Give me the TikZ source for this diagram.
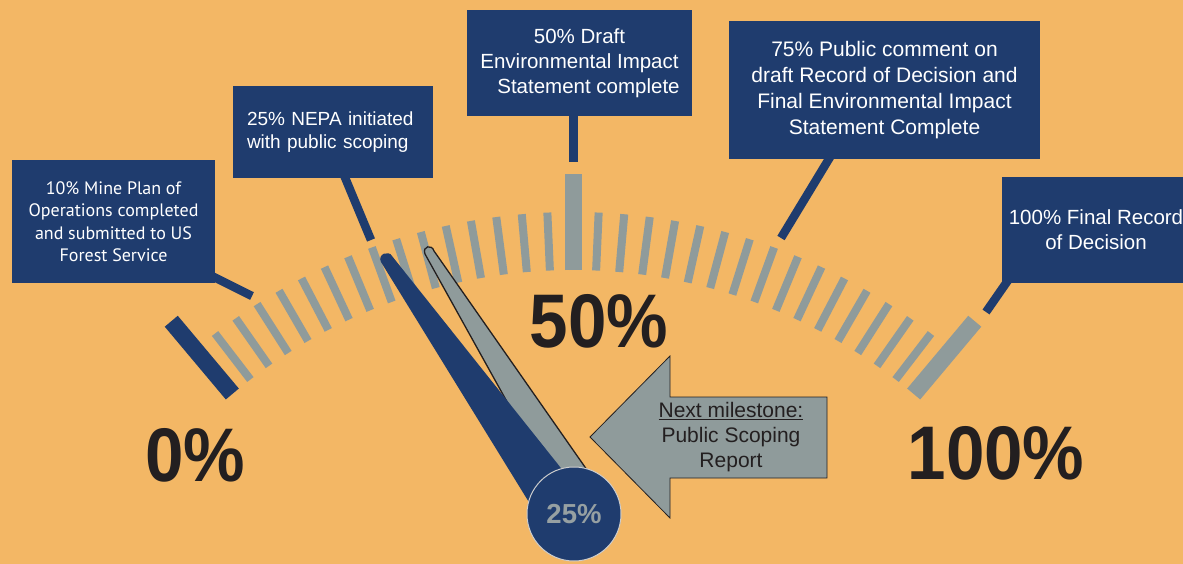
\documentclass[tikz,border=0pt]{standalone}
\usepackage{fontspec}
\setmainfont{Liberation Sans}
\newfontfamily\myriadlike{PT Sans}
\usepackage{graphicx}
\definecolor{bg}{RGB}{243,183,101}
\definecolor{dblue}{RGB}{31,60,110}
\definecolor{tgray}{RGB}{143,155,155}
\definecolor{ink}{RGB}{35,31,32}
\definecolor{hubtext}{RGB}{150,160,162}
\definecolor{rim}{RGB}{205,205,205}
\begin{document}
\begin{tikzpicture}[x=1pt,y=-1pt,
  box/.style={fill=dblue, text=white, inner sep=0pt, align=center},
  conn/.style={draw=dblue, line width=8.5pt},
  smalltick/.style={draw=tgray, line width=8pt},
  bigtick/.style={line width=17pt},
  big/.style={text=ink, font=\bfseries\fontsize{76}{76}\selectfont, inner sep=0pt, anchor=base},
]
\useasboundingbox[fill=bg] (0,0) rectangle (1183,564);

% gauge ticks
\begin{scope}[shift={(573,800)}]
\foreach \i in {1,...,31}{
  \draw[smalltick] (-130+2.5*\i:530) -- (-130+2.5*\i:588);
}
\draw[bigtick, draw=dblue] (-130:530) -- (-130:625);
\draw[bigtick, draw=tgray] (-90:530) -- (-90:626);
\draw[bigtick, draw=tgray] (-50:530) -- (-50:625);
\end{scope}

% milestone boxes
\node[box, minimum width=203pt, minimum height=123pt, font=\myriadlike\fontsize{18}{22.5}\selectfont] (b10) at (113.5,221.5)
  {10\% Mine Plan of\\Operations completed\\and submitted to US\\Forest Service};
\node[box, minimum width=200pt, minimum height=92pt, text width=172pt, align=left, font=\fontsize{19}{23}\selectfont] (b25) at (333,132)
  {25\% NEPA initiated\\with public scoping};
\node[box, minimum width=225pt, minimum height=106pt, font=\fontsize{20.5}{25}\selectfont] (b50) at (579.5,63)
  {50\% Draft\\Environmental Impact\\\hspace*{18pt}Statement complete};
\node[box, minimum width=311pt, minimum height=138pt, font=\fontsize{21}{26}\selectfont] (b75) at (884.5,90)
  {75\% Public comment on\\draft Record of Decision and\\Final Environmental Impact\\Statement Complete};
\node[box, minimum width=188pt, minimum height=106pt, font=\fontsize{20.5}{25}\selectfont] (b100) at (1096,230)
  {100\% Final Record\\of Decision};

% connectors
\coordinate (e10) at (252,296);
\coordinate (e25) at (371,240);
\coordinate (e50) at (573.5,162);
\coordinate (e75) at (781,238);
\coordinate (e100) at (986,312);
\draw[conn] ([xshift=-5pt,yshift=8pt]b10.south east) -- (e10);
\draw[conn] ([xshift=110pt,yshift=6pt]b25.south west) -- (e25);
\draw[conn] ([xshift=-6pt,yshift=4pt]b50.south) -- (e50);
\draw[conn] ([xshift=103pt,yshift=5pt]b75.south west) -- (e75);
\draw[conn] ([xshift=7pt,yshift=4pt]b100.south west) -- (e100);

% needles
\filldraw[fill=tgray, draw=ink, line width=1.3pt] (425,254) .. controls (422,246) and (432,244) .. (434,251) -- (601,490) -- (556,490) -- cycle;
\fill[dblue] (381,262) .. controls (377,254) and (389,250) .. (392,256) -- (580,492) -- (535,512) -- cycle;
\node[circle, fill=dblue, draw=rim, line width=1pt, minimum size=94pt, inner sep=0pt, text=hubtext, font=\bfseries\fontsize{27.5}{27.5}\selectfont] (hub) at (574,514) {25\%};

% next milestone arrow
\filldraw[fill=tgray, draw=ink, line width=0.8pt] (590,437) -- (670,356) -- (670,397) -- (827,397) -- (827,478) -- (670,478) -- (670,518) -- cycle;
\node[text=ink, align=center, inner sep=0pt, font=\fontsize{21}{25}\selectfont] (nextm) at (731,437)
  {\underline{Next milestone:}\\Public Scoping\\Report};

% scale labels
\node[big] (p0) at (195,481) {\scalebox{0.91}[1]{0\%}};
\node[big] (p50) at (599,347) {\scalebox{0.91}[1]{50\%}};
\node[big] (p100) at (996,479) {\scalebox{0.91}[1]{100\%}};
\end{tikzpicture}
\end{document}
